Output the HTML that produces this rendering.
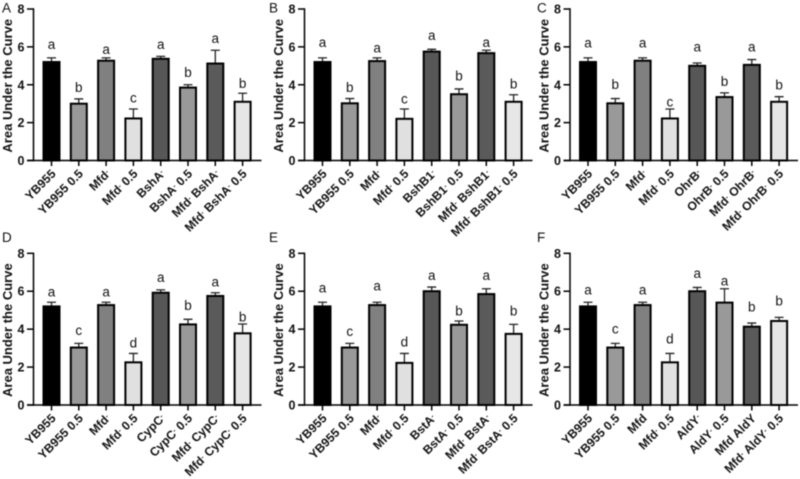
<!DOCTYPE html>
<html lang="en">
<head>
<meta charset="utf-8">
<title>Area Under the Curve panels</title>
<style>
html,body{margin:0;padding:0;background:#fff;}
#fig{display:block;width:800px;height:479px;filter:blur(0.55px);}
text{font-family:"Liberation Sans",sans-serif;fill:#111;}
</style>
</head>
<body>
<svg id="fig" xmlns="http://www.w3.org/2000/svg" width="800" height="479" viewBox="0 0 800 479"></svg>
<script>
const yTicks = [0, 2, 4, 6, 8];
const barFills = ['#000000', '#999999', '#808080', '#e0e0e0', '#575757', '#999999', '#5a5a5a', '#e6e6e6'];

const labelsA = ['YB955', 'YB955 0.5', 'Mfd^', 'Mfd^ 0.5', 'BshA^', 'BshA^ 0.5', 'Mfd^ BshA^', 'Mfd^ BshA^ 0.5'];
const valuesA = [5.2, 3.0, 5.27, 2.22, 5.37, 3.85, 5.12, 3.1];
const errorsA = [5.42, 3.25, 5.42, 2.72, 5.5, 4.0, 5.82, 3.55];
const lettersA = ['a', 'b', 'a', 'c', 'a', 'b', 'a', 'b'];
const letterHeightsA = [5.9, 3.62, 5.62, 3.05, 5.9, 4.4, 6.2, 3.84];

const labelsB = ['YB955', 'YB955 0.5', 'Mfd^', 'Mfd^ 0.5', 'BshB1^', 'BshB1^ 0.5', 'Mfd^ BshB1^', 'Mfd^ BshB1^ 0.5'];
const valuesB = [5.2, 3.02, 5.25, 2.2, 5.75, 3.5, 5.67, 3.1];
const errorsB = [5.42, 3.27, 5.42, 2.72, 5.87, 3.78, 5.82, 3.47];
const lettersB = ['a', 'b', 'a', 'c', 'a', 'b', 'a', 'b'];
const letterHeightsB = [6.0, 3.63, 5.7, 3.0, 6.36, 4.23, 6.0, 3.8];

const labelsC = ['YB955', 'YB955 0.5', 'Mfd^', 'Mfd^ 0.5', 'OhrB^', 'OhrB^ 0.5', 'Mfd^ OhrB^', 'Mfd^ OhrB^ 0.5'];
const valuesC = [5.2, 3.02, 5.27, 2.22, 5.0, 3.35, 5.05, 3.1];
const errorsC = [5.42, 3.27, 5.42, 2.72, 5.15, 3.57, 5.33, 3.37];
const lettersC = ['a', 'b', 'a', 'c', 'a', 'b', 'a', 'b'];
const letterHeightsC = [5.96, 3.78, 5.96, 2.84, 5.75, 3.93, 5.75, 3.76];

const labelsD = ['YB955', 'YB955 0.5', 'Mfd^', 'Mfd^ 0.5', 'CypC^', 'CypC^ 0.5', 'Mfd^ CypC^', 'Mfd^ CypC^ 0.5'];
const valuesD = [5.2, 3.03, 5.27, 2.25, 5.92, 4.25, 5.75, 3.78];
const errorsD = [5.42, 3.25, 5.42, 2.72, 6.07, 4.52, 5.92, 4.27];
const lettersD = ['a', 'c', 'a', 'd', 'a', 'b', 'a', 'b'];
const letterHeightsD = [5.71, 3.69, 5.71, 3.04, 6.49, 5.0, 6.24, 4.41];

const labelsE = ['YB955', 'YB955 0.5', 'Mfd^', 'Mfd^ 0.5', 'BstA^', 'BstA^ 0.5', 'Mfd^ BstA^', 'Mfd^ BstA^ 0.5'];
const valuesE = [5.2, 3.03, 5.27, 2.22, 6.0, 4.23, 5.85, 3.75];
const errorsE = [5.42, 3.25, 5.42, 2.72, 6.22, 4.43, 6.13, 4.25];
const lettersE = ['a', 'c', 'a', 'd', 'a', 'b', 'a', 'b'];
const letterHeightsE = [5.94, 3.65, 6.03, 3.08, 6.59, 4.73, 6.59, 4.73];

const labelsF = ['YB955', 'YB955 0.5', 'Mfd', 'Mfd^ 0.5', 'AldY^', 'AldY^ 0.5', 'Mfd AldY', 'Mfd^ AldY^ 0.5'];
const valuesF = [5.2, 3.03, 5.27, 2.25, 6.0, 5.4, 4.13, 4.43];
const errorsF = [5.42, 3.25, 5.42, 2.72, 6.2, 6.13, 4.32, 4.62];
const lettersF = ['a', 'c', 'a', 'd', 'a', 'a', 'b', 'b'];
const letterHeightsF = [5.82, 3.76, 5.82, 3.25, 6.7, 6.31, 4.92, 5.26];

const svg = document.getElementById('fig');
const NS = 'http://www.w3.org/2000/svg';

function make(tag, attrs, parent) {
  const el = document.createElementNS(NS, tag);
  for (const k in attrs) el.setAttribute(k, attrs[k]);
  parent.appendChild(el);
  return el;
}

function drawPanel(id, originX, zeroY, eightY, labelX, labelY, labels, values, errors, letters, heights) {
  const yScale = v => zeroY - v * (zeroY - eightY) / 8;
  const xScale = i => originX + 18 + i * 27.3;

  const g = make('g', {}, svg);
  
  

  const tag = make('text', {x: labelX, y: labelY, 'font-size': 13.5}, g);
  tag.textContent = id;
  
  

  const title = make('text', {
    transform: 'translate(' + (originX - 21.5) + ',' + ((zeroY + eightY) / 2 + 1) + ') rotate(-90)',
    'text-anchor': 'middle', 'font-size': 13, 'font-weight': 'bold'
  }, g);
  title.textContent = 'Area Under the Curve';
  
  

  values.forEach((v, i) => {
    const cx = xScale(i);
    const top = yScale(v);

    const err = make('path', {
      d: 'M' + cx + ' ' + top + 'V' + yScale(errors[i]) + 'm-4.5 0h9',
      fill: 'none', stroke: '#222', 'stroke-width': 1.3
    }, g);
    
    

    const bar = make('rect', {
      x: cx - 8, y: top, width: 16, height: zeroY - top,
      fill: barFills[i], stroke: '#000', 'stroke-width': 2
    }, g);
    
    

    const letter = make('text', {
      x: cx, y: yScale(heights[i]), 'text-anchor': 'middle', 'font-size': 13.5, fill: '#222'
    }, g);
    letter.textContent = letters[i];
    
    

    const tick = make('line', {x1: cx, x2: cx, y1: zeroY, y2: zeroY + 5.5, stroke: '#000', 'stroke-width': 1.5}, g);
    
    

    const lab = make('text', {
      transform: 'translate(' + (cx + 5) + ',' + (zeroY + 14) + ') rotate(-45)',
      'text-anchor': 'end', 'font-size': 12.2, 'font-weight': 'bold'
    }, g);
    
    
    const parts = labels[i].split('^');
    parts.forEach((p, j) => {
      if (p) {
        const s = make('tspan', j > 0 ? {dy: 3} : {}, lab);
        s.textContent = p;
      }
      if (j < parts.length - 1) {
        const m = make('tspan', {dy: -3, 'font-size': 7}, lab);
        m.textContent = '-';
      }
    });
  });

  const yAxis = make('line', {x1: originX, x2: originX, y1: eightY - 0.7, y2: zeroY + 0.7, stroke: '#000', 'stroke-width': 1.5}, g);
  
  

  const xAxis = make('line', {x1: originX - 6.5, x2: originX + 228, y1: zeroY, y2: zeroY, stroke: '#000', 'stroke-width': 1.5}, g);
  
  

  yTicks.forEach(t => {
    const y = yScale(t);
    const tk = make('line', {x1: originX - 6.5, x2: originX, y1: y, y2: y, stroke: '#000', 'stroke-width': 1.5}, g);
    
    

    const tl = make('text', {x: originX - 9, y: y + 4.5, 'text-anchor': 'end', 'font-size': 12.5, 'font-weight': 'bold'}, g);
    tl.textContent = t;
    
    
  });
}

drawPanel('A', 33.5, 160.5, 9, 2, 12.5, labelsA, valuesA, errorsA, lettersA, letterHeightsA);
drawPanel('B', 304.5, 160.5, 9, 269, 12.5, labelsB, valuesB, errorsB, lettersB, letterHeightsB);
drawPanel('C', 570, 160.5, 9, 537, 12.5, labelsC, valuesC, errorsC, lettersC, letterHeightsC);
drawPanel('D', 33.5, 405, 253.3, 2, 242, labelsD, valuesD, errorsD, lettersD, letterHeightsD);
drawPanel('E', 304.5, 405, 253.3, 269, 242, labelsE, valuesE, errorsE, lettersE, letterHeightsE);
drawPanel('F', 570, 405, 253.3, 537, 242, labelsF, valuesF, errorsF, lettersF, letterHeightsF);
</script>
</body>
</html>
